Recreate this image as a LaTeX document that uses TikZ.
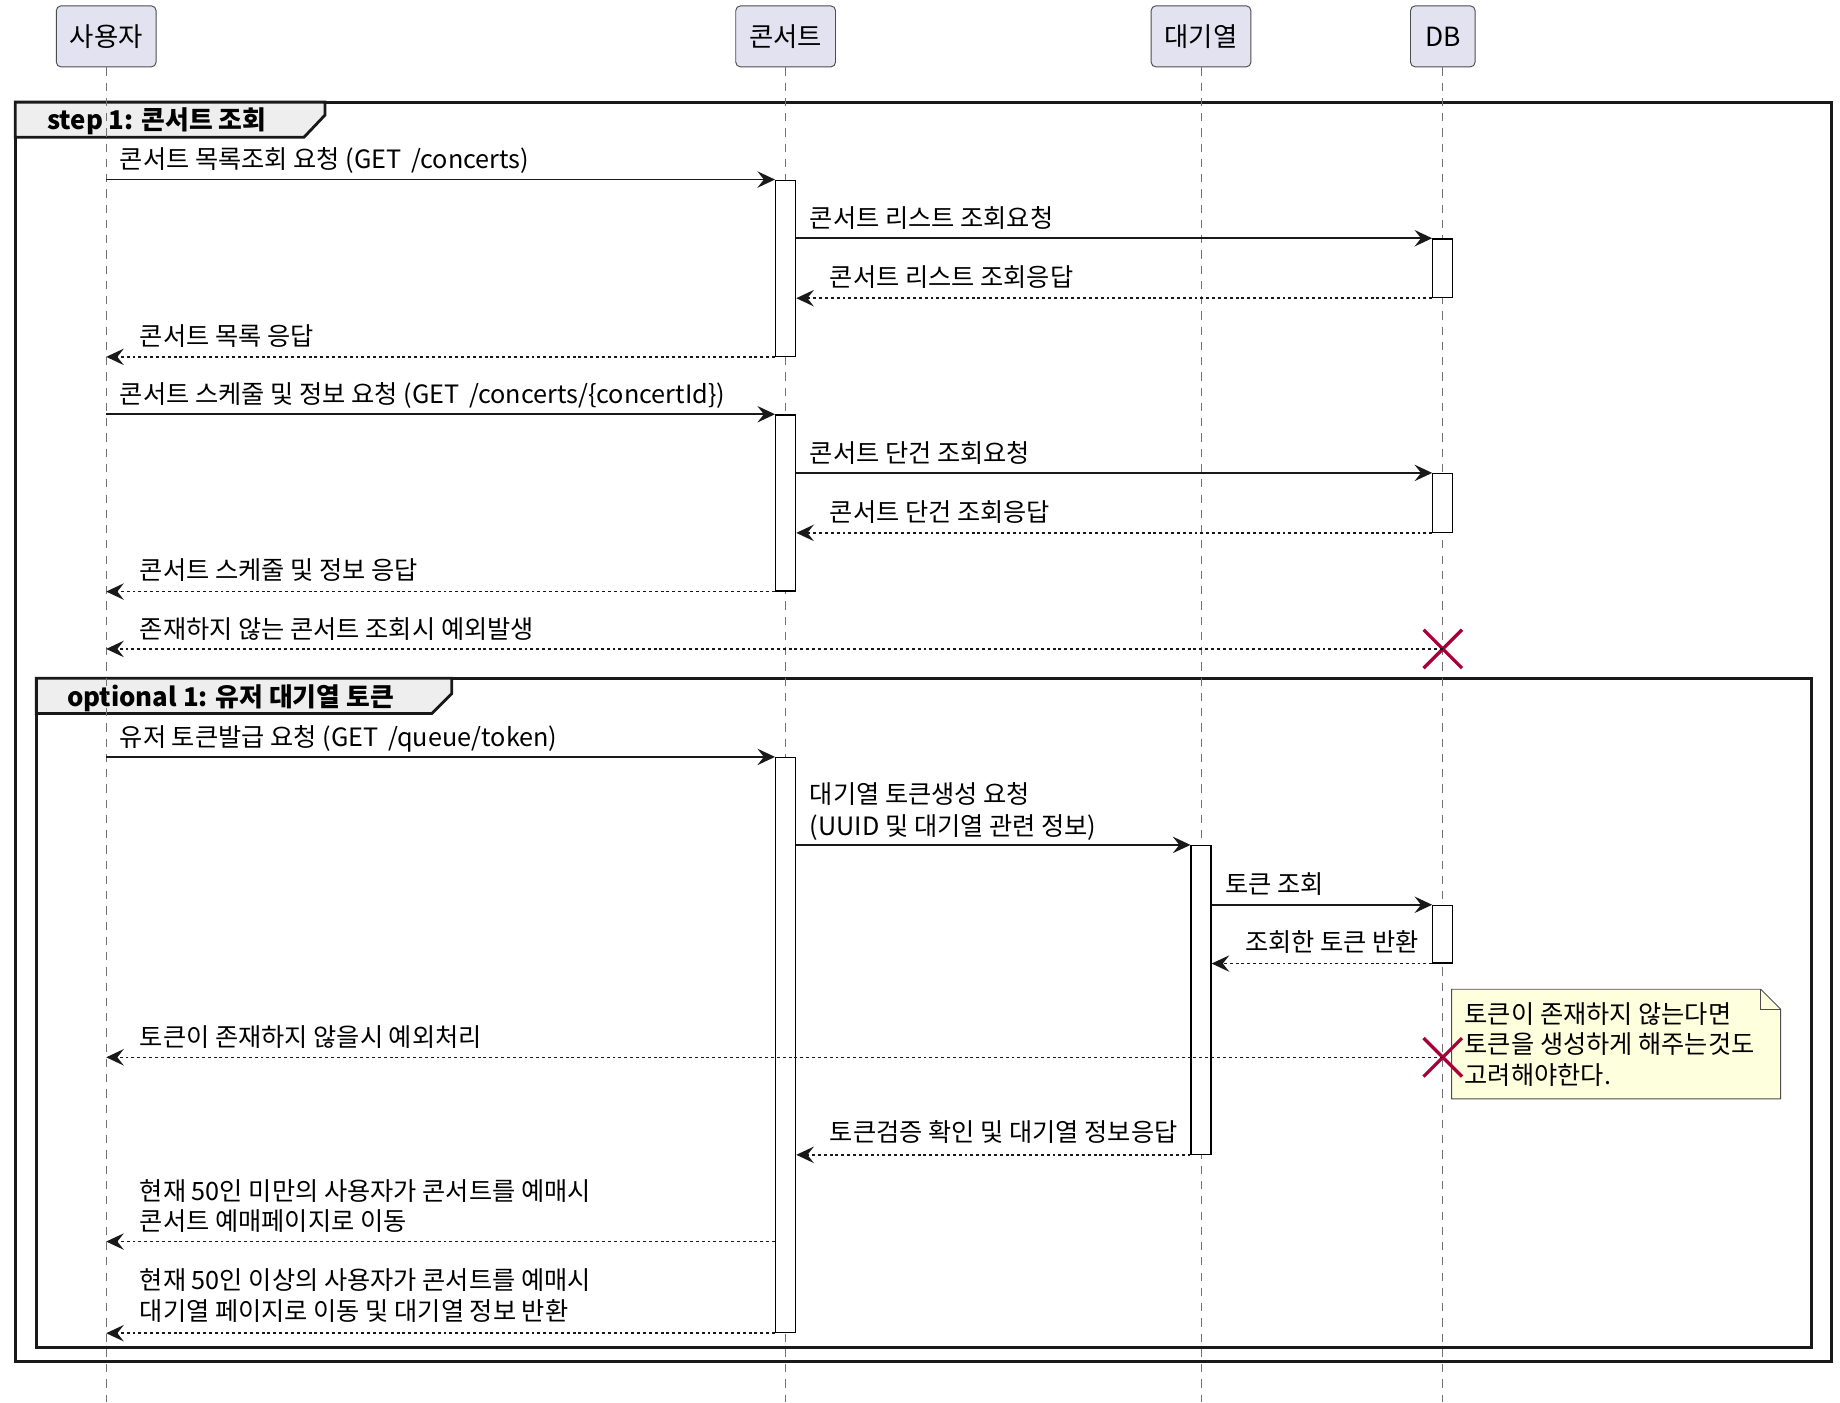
\documentclass[tikz,border=0pt]{standalone}
\usepackage{fontspec}
\setmainfont{Noto Sans CJK KR}
\usetikzlibrary{arrows.meta,shapes.misc}
\definecolor{partfill}{HTML}{E2E2F0}
\definecolor{tabfill}{HTML}{EEEEEE}
\definecolor{notefill}{HTML}{FEFFDD}
\definecolor{killred}{HTML}{A80036}
\begin{document}
\begin{tikzpicture}[x=1pt,y=-1pt,
  font=\fontsize{21.5}{26}\selectfont,
  part/.style={draw=black!70, line width=0.8pt, fill=partfill, rounded corners=4pt,
    minimum height=52pt, inner sep=0pt, font=\fontsize{22.5}{26}\selectfont},
  lifeline/.style={draw=black!55, line width=0.9pt, dash pattern=on 7pt off 6pt},
  act/.style={draw=black, fill=white, line width=1.1pt, inner sep=0pt, minimum width=17pt, anchor=north},
  msg/.style={draw=black!90, line width=1.3pt, -{Stealth[length=15pt,width=14pt,inset=5.5pt]}},
  ret/.style={msg, dash pattern=on 2.5pt off 2.5pt},
  lbl/.style={anchor=base west, inner sep=0pt},
  frame/.style={line width=2.4pt, draw=black!90},
  tab/.style={line width=2.4pt, draw=black!90, fill=tabfill},
  killx/.style={cross out, draw=killred, line width=2.8pt, minimum size=30pt, inner sep=0pt},
  notebox/.style={draw=black!70, line width=0.8pt, fill=notefill}
]
\useasboundingbox (0,0) rectangle (1568,1195);
\coordinate (bottom) at (0,1195);

% frames
\draw[frame] (13,87) rectangle (1561,1160);
\filldraw[tab] (13,87) -- (277,87) -- (277,98) -- (259,117) -- (13,117) -- cycle;
\node[lbl, font=\fontsize{22}{26}\selectfont\bfseries] (t1) at (40,110) {step 1: 콘서트 조회};
\draw[frame] (31,578) rectangle (1544,1148);
\filldraw[tab] (31,578) -- (385,578) -- (385,591) -- (368,608) -- (31,608) -- cycle;
\node[lbl, font=\fontsize{22}{26}\selectfont\bfseries] (t2) at (57,602) {optional 1: 유저 대기열 토큰};

% participants
\node[part, minimum width=85pt] (pu) at (90.5,31) {사용자};
\node[part, minimum width=85pt] (pc) at (669.5,31) {콘서트};
\node[part, minimum width=85pt] (pq) at (1023.5,31) {대기열};
\node[part, minimum width=55pt] (pd) at (1229.5,31) {DB};

\draw[lifeline] (pu.south) -- (pu.south|-bottom);
\draw[lifeline] (pc.south) -- (pc.south|-bottom);
\draw[lifeline] (pq.south) -- (pq.south|-bottom);
\draw[lifeline] (pd.south) -- (pd.south|-bottom);

% activations
\node[act, minimum height=150pt] (a1) at (669.5,153) {};
\node[act, minimum height=150pt] (a2) at (669.5,353) {};
\node[act, minimum height=490pt] (a3) at (669.5,645) {};
\node[act, minimum height=50pt] (d1) at (1229.5,203) {};
\node[act, minimum height=50pt] (d2) at (1229.5,403) {};
\node[act, minimum height=49pt] (d3) at (1229.5,771) {};
\node[act, minimum height=263pt] (q1) at (1023.5,720) {};

% note
\node[inner sep=0pt, minimum width=280pt, minimum height=93pt, anchor=north west] (note) at (1237,843) {};
\filldraw[notebox] (note.north west) -- ([xshift=-17pt]note.north east) -- ([yshift=-17pt]note.north east)
  -- (note.south east) -- (note.south west) -- cycle;
\draw[notebox, fill=none] ([xshift=-17pt]note.north east) -- ([xshift=-17pt,yshift=-17pt]note.north east) -- ([yshift=-17pt]note.north east);
\node[lbl] (n1) at (1248,872) {토큰이 존재하지 않는다면};
\node[lbl] (n2) at (1248,898) {토큰을 생성하게 해주는것도};
\node[lbl] (n3) at (1248,924) {고려해야한다.};

% kill marks
\node[killx] (x1) at (1229.5,553) {};
\node[killx] (x2) at (1229.5,901) {};

% messages
\draw[msg] (pu|-a1.north) -- (a1.north west);
\node[lbl] (m1) at (102,144) {콘서트 목록조회 요청 (GET \,/concerts)};
\draw[msg] (a1.east|-d1.north) -- (d1.north west);
\node[lbl] (m2) at (690,194) {콘서트 리스트 조회요청};
\draw[ret] (d1.south west) -- (a1.east|-d1.south);
\node[lbl] (m3) at (707,244) {콘서트 리스트 조회응답};
\draw[ret] (a1.south west) -- (pu|-a1.south);
\node[lbl] (m4) at (119,294) {콘서트 목록 응답};

\draw[msg] (pu|-a2.north) -- (a2.north west);
\node[lbl] (m5) at (102,344) {콘서트 스케줄 및 정보 요청 (GET \,/concerts/\{concertId\})};
\draw[msg] (a2.east|-d2.north) -- (d2.north west);
\node[lbl] (m6) at (690,394) {콘서트 단건 조회요청};
\draw[ret] (d2.south west) -- (a2.east|-d2.south);
\node[lbl] (m7) at (707,444) {콘서트 단건 조회응답};
\draw[ret] (a2.south west) -- (pu|-a2.south);
\node[lbl] (m8) at (119,494) {콘서트 스케줄 및 정보 응답};

\draw[ret] (x1.center) -- (pu|-x1);
\node[lbl] (m9) at (119,544) {존재하지 않는 콘서트 조회시 예외발생};

\draw[msg] (pu|-a3.north) -- (a3.north west);
\node[lbl] (m10) at (102,636) {유저 토큰발급 요청 (GET \,/queue/token)};
\draw[msg] (a3.east|-q1.north) -- (q1.north west);
\node[lbl] (m11a) at (690,685) {대기열 토큰생성 요청};
\node[lbl] (m11b) at (690,712) {(UUID 및 대기열 관련 정보)};
\draw[msg] (q1.east|-d3.north) -- (d3.north west);
\node[lbl] (m12) at (1044,761) {토큰 조회};
\draw[ret] (d3.south west) -- (q1.east|-d3.south);
\node[lbl] (m13) at (1061,811) {조회한 토큰 반환};

\draw[ret] (x2.center) -- (pu|-x2);
\node[lbl] (m14) at (119,892) {토큰이 존재하지 않을시 예외처리};

\draw[ret] (q1.south west) -- (a3.east|-q1.south);
\node[lbl] (m15) at (707,973) {토큰검증 확인 및 대기열 정보응답};

\coordinate (r16) at (a3.west|-0,1058);
\draw[ret] (r16) -- (pu|-r16);
\node[lbl] (m16a) at (119,1023) {현재 50인 미만의 사용자가 콘서트를 예매시};
\node[lbl] (m16b) at (119,1049) {콘서트 예매페이지로 이동};
\draw[ret] (a3.south west) -- (pu|-a3.south);
\node[lbl] (m17a) at (119,1099) {현재 50인 이상의 사용자가 콘서트를 예매시};
\node[lbl] (m17b) at (119,1125) {대기열 페이지로 이동 및 대기열 정보 반환};
\end{tikzpicture}
\end{document}
